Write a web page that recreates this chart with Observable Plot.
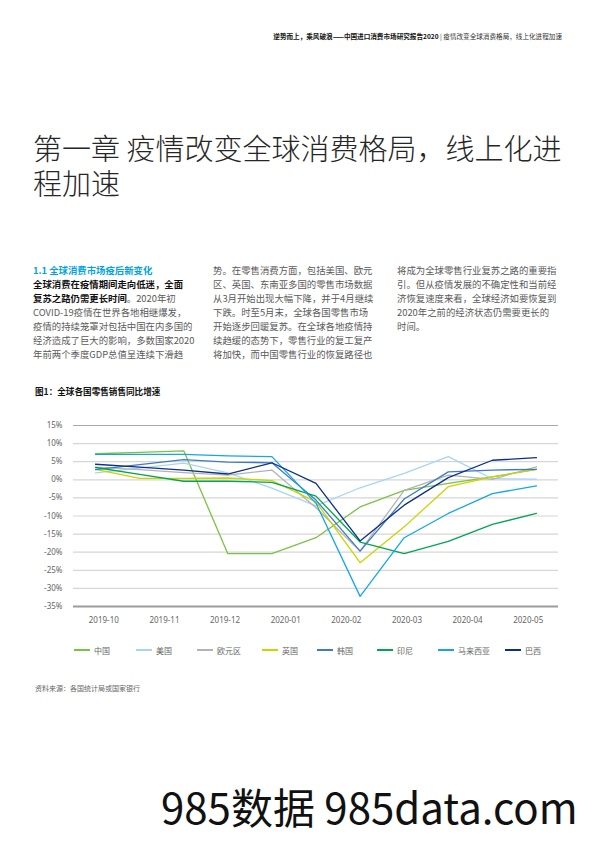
<!DOCTYPE html>
<html>
<head>
<meta charset="utf-8">
<script src="https://cdn.jsdelivr.net/npm/d3@7"></script>
<script src="https://cdn.jsdelivr.net/npm/@observablehq/plot@0.6"></script>
<style>
  html, body { margin: 0; padding: 0; background: #fff; }
  body { width: 596px; height: 842px; position: relative; overflow: hidden;
         font-family: "Noto Sans CJK SC", "Noto Sans", sans-serif; }
  .abs { position: absolute; white-space: nowrap; }
  #header { right: 34px; top: 31px; font-size: 6.6px; color: #333; }
  #header b { color: #111; }
  .title { left: 33px; font-size: 29px; line-height: 30px; color: #262626; font-weight: 300; }
  .col { font-size: 9.4px; line-height: 14px; color: #5a5a5a; }
  .col .h { color: #00a3e0; font-weight: bold; }
  .col b { color: #111; }
  #figtitle { left: 35px; top: 385px; font-size: 8.6px; font-weight: bold; color: #111; }
  #chart { left: 0; top: 410px; }
  #legend { left: 0; top: 643px; width: 596px; height: 14px; font-size: 8px; color: #666; }
  .li { position: absolute; top: 0; display: flex; align-items: center; height: 14px; }
  .sw { width: 16px; height: 2.4px; margin-right: 4px; }
  #source { left: 35px; top: 683px; font-size: 7px; color: #666; }
  #footer { left: 161px; top: 781px; font-size: 42px; line-height: 50px; color: #111; font-family: "Noto Sans CJK SC", sans-serif; }
</style>
</head>
<body>
<div id="header" class="abs"><b>逆势而上，乘风破浪——中国进口消费市场研究报告2020</b> | 疫情改变全球消费格局，线上化进程加速</div>
<div class="abs title" style="top:132px;">第一章 疫情改变全球消费格局，线上化进</div>
<div class="abs title" style="top:167px;">程加速</div>

<div class="abs col" style="left:33px; top:263px;">
  <div class="h">1.1 全球消费市场疫后新变化</div>
  <div><b>全球消费在疫情期间走向低迷，全面</b></div>
  <div><b>复苏之路仍需更长时间</b>。2020年初</div>
  <div>COVID-19疫情在世界各地相继爆发，</div>
  <div>疫情的持续笼罩对包括中国在内多国的</div>
  <div>经济造成了巨大的影响，多数国家2020</div>
  <div>年前两个季度GDP总值呈连续下滑趋</div>
</div>
<div class="abs col" style="left:213px; top:263px;">
  <div>势。在零售消费方面，包括美国、欧元</div>
  <div>区、英国、东南亚多国的零售市场数据</div>
  <div>从3月开始出现大幅下降，并于4月继续</div>
  <div>下跌。时至5月末，全球各国零售市场</div>
  <div>开始逐步回暖复苏。在全球各地疫情持</div>
  <div>续趋缓的态势下，零售行业的复工复产</div>
  <div>将加快，而中国零售行业的恢复路径也</div>
</div>
<div class="abs col" style="left:397px; top:263px;">
  <div>将成为全球零售行业复苏之路的重要指</div>
  <div>引。但从疫情发展的不确定性和当前经</div>
  <div>济恢复速度来看，全球经济如要恢复到</div>
  <div>2020年之前的经济状态仍需要更长的</div>
  <div>时间。</div>
</div>

<div id="figtitle" class="abs">图1：全球各国零售销售同比增速</div>
<div id="chart" class="abs"></div>
<div id="legend" class="abs"></div>
<div id="source" class="abs">资料来源：各国统计局或国家银行</div>
<div id="footer" class="abs">985数据 985data.com</div>

<script>
// ---- data ----
const monthLabels = ["2019-10", "2019-11", "2019-12", "2020-01", "2020-02", "2020-03", "2020-04", "2020-05"];
const yTicks = [15, 10, 5, 0, -5, -10, -15, -20, -25, -30, -35];
const seriesNames = ["中国", "美国", "欧元区", "英国", "韩国", "印尼", "马来西亚", "巴西"];
const seriesColors = ["#7cc242", "#a6d6f2", "#b3b3b3", "#c9d400", "#3d7cc4", "#00a551", "#14a7e6", "#0d2f86"];
// 11 plotted points per series (as drawn in the source figure)
const china    = [7.2, 7.6, 8.0, -20.4, -20.4, -16.0, -7.5, -2.9, -1.0, 0.8, 2.9];
const usa      = [1.9, 3.2, 4.6, 1.9, -2.3, -7.2, -2.2, 1.8, 6.4, 0.3, 0.2];
const eurozone = [3.5, 2.8, 2.0, 1.3, 2.7, -7.7, -19.7, -2.9, 1.3, 0.1, 3.6];
const uk       = [2.9, 0.4, 0.4, 0.5, -0.2, -6.1, -22.9, -13.0, -1.9, 0.8, 2.9];
const korea    = [2.8, 4.2, 5.6, 4.9, 4.7, -5.6, -19.7, -5.3, 2.2, 2.7, 2.9];
const indonesia= [3.4, 1.5, -0.4, -0.4, -0.7, -4.5, -17.2, -20.4, -17.0, -12.3, -9.3];
const malaysia = [7.0, 7.0, 7.0, 6.6, 6.4, -6.5, -32.2, -16.0, -9.3, -3.8, -1.7];
const brazil   = [4.3, 3.5, 2.7, 1.6, 4.7, -1.0, -16.9, -7.0, 0.6, 5.4, 6.1];
const seriesValues = [china, usa, eurozone, uk, korea, indonesia, malaysia, brazil];

// ---- build table ----
const nPts = china.length;
const rows = [];
seriesNames.forEach((name, s) => {
  seriesValues[s].forEach((v, i) => rows.push({series: name, x: i + 0.5, y: v}));
});
const labelPos = monthLabels.map((_, j) => (j + 0.5) * nPts / monthLabels.length);

const chart = Plot.plot({
  width: 596,
  height: 225,
  marginLeft: 73,
  marginRight: 38,
  marginTop: 15,
  marginBottom: 29,
  style: {fontFamily: '"Noto Sans", "Open Sans", sans-serif', fontSize: "8px", color: "#666", background: "transparent"},
  x: {domain: [0, nPts]},
  y: {domain: [-35, 15]},
  color: {domain: seriesNames, range: seriesColors},
  marks: [
    Plot.ruleY(yTicks.filter(d => d !== 15 && d !== -35), {stroke: "#d6d6d6", strokeWidth: 1.2}),
    Plot.ruleY([15], {stroke: "#a8a8a8", strokeWidth: 1.1}),
    Plot.ruleY([-35], {stroke: "#9c9c9c", strokeWidth: 1.8}),
    Plot.axisY({ticks: yTicks, tickSize: 0, tickPadding: 11, tickFormat: d => `${d}%`, label: null, fill: "#666"}),
    Plot.axisX({ticks: labelPos, tickSize: 0, tickPadding: 11, tickFormat: (d, i) => monthLabels[i], label: null, fill: "#666"}),
    Plot.line(rows, {x: "x", y: "y", z: "series", stroke: "series", strokeWidth: 1.3, curve: "linear"})
  ]
});
document.getElementById("chart").appendChild(chart);

// ---- legend ----
const legendLeft = [74, 136, 197, 262, 317, 377, 438, 505];
const legend = document.getElementById("legend");
seriesNames.forEach((name, i) => {
  const item = document.createElement("div");
  item.className = "li";
  item.style.left = legendLeft[i] + "px";
  item.innerHTML = `<span class="sw" style="background:${seriesColors[i]}"></span><span>${name}</span>`;
  legend.appendChild(item);
});
</script>
</body>
</html>
